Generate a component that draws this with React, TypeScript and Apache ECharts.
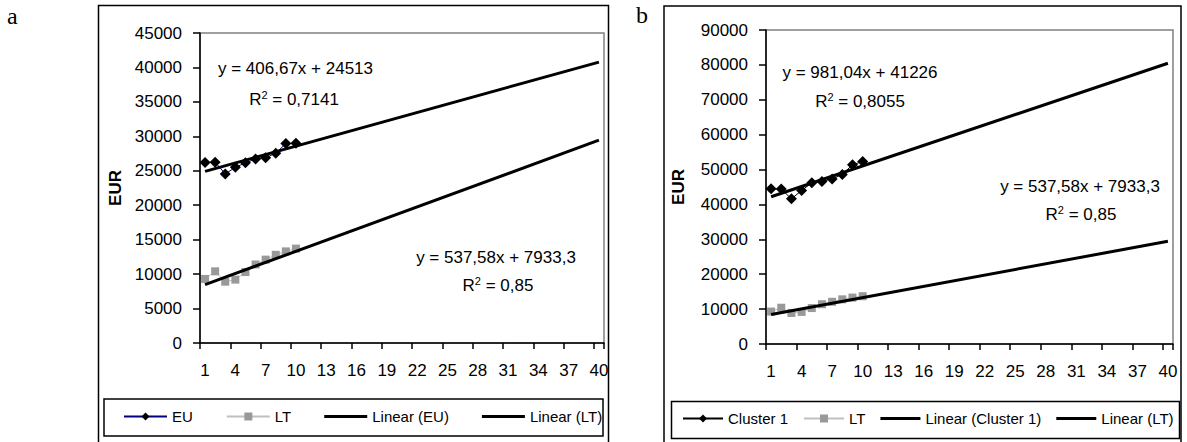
import React, { useEffect, useRef } from "react";
import * as echarts from "echarts";

// ---------- data ----------
const categories = [
  "1", "2", "3", "4", "5", "6", "7", "8", "9", "10",
  "11", "12", "13", "14", "15", "16", "17", "18", "19", "20",
  "21", "22", "23", "24", "25", "26", "27", "28", "29", "30",
  "31", "32", "33", "34", "35", "36", "37", "38", "39", "40",
];
const euValues = [26200, 26250, 24550, 25500, 26150, 26700, 26900, 27550, 28950, 29000];
const ltValues = [9300, 10400, 8900, 9200, 10300, 11400, 12100, 12800, 13300, 13700];
const cluster1Values = [44500, 44400, 41600, 44000, 46200, 46600, 47300, 48600, 51400, 52300];
// trend line end points (at category 1 and category 40)
const trendEU = [24920, 40780];
const trendLT = [8470, 29440];
const trendCluster1 = [42210, 80470];

const legendA = ["EU", "LT", "Linear (EU)", "Linear (LT)"];
const legendB = ["Cluster 1", "LT", "Linear (Cluster 1)", "Linear (LT)"];

const eqEU = ["y = 406,67x + 24513", "0,7141"];
const eqLT = ["y = 537,58x + 7933,3", "0,85"];
const eqCluster1 = ["y = 981,04x + 41226", "0,8055"];

// ---------- helpers ----------
const FONT = "'Liberation Sans', Arial, sans-serif";
const LINE_ICON = "path://M0,0 L40,0 L40,3 L0,3 Z";

function trendData(ends: number[]) {
  const arr: (number | null)[] = categories.map(() => null);
  arr[0] = ends[0];
  arr[categories.length - 1] = ends[1];
  return arr;
}

function xAxis(gridIndex: number) {
  return {
    type: "category",
    gridIndex,
    data: categories,
    boundaryGap: true,
    axisLine: { show: true, lineStyle: { color: "#000", width: 1.5 } },
    axisTick: { show: true, interval: 2, length: 6, lineStyle: { color: "#000", width: 1.5 } },
    axisLabel: { interval: 2, color: "#000", fontSize: 17, fontFamily: FONT, margin: 19 },
    splitLine: { show: false },
  };
}

function yAxis(gridIndex: number, max: number, interval: number, nameGap: number) {
  return {
    type: "value",
    gridIndex,
    min: 0,
    max,
    interval,
    name: "EUR",
    nameLocation: "middle",
    nameGap,
    nameTextStyle: { fontWeight: "bold", fontSize: 17, color: "#000", fontFamily: FONT },
    axisLine: { show: true, lineStyle: { color: "#000", width: 1.5 } },
    axisTick: { show: true, length: 7, lineStyle: { color: "#000", width: 1.5 } },
    axisLabel: { color: "#000", fontSize: 17, fontFamily: FONT, margin: 18, formatter: (v: number) => String(v) },
    splitLine: { show: false },
  };
}

function dataSeries(name: string, data: number[], idx: number, kind: "diamond" | "rect", lineColor: string, symColor: string) {
  return {
    name,
    type: "line",
    xAxisIndex: idx,
    yAxisIndex: idx,
    data,
    symbol: kind,
    symbolSize: kind === "diamond" ? 11 : 8,
    showSymbol: true,
    showAllSymbol: true,
    itemStyle: { color: symColor },
    lineStyle: { color: lineColor, width: 1 },
    z: 2,
  };
}

function trendSeries(name: string, ends: number[], idx: number) {
  return {
    name,
    type: "line",
    xAxisIndex: idx,
    yAxisIndex: idx,
    data: trendData(ends),
    connectNulls: true,
    symbol: "none",
    itemStyle: { color: "#000" },
    lineStyle: { color: "#000", width: 3 },
    z: 3,
  };
}

function eqText(x: number, y: number, eq: string[]) {
  return {
    type: "text",
    x,
    y,
    style: { text: eq[0], fontSize: 17, fontFamily: FONT, fill: "#000", align: "center", verticalAlign: "middle" },
  };
}

function r2Text(x: number, y: number, eq: string[]) {
  return {
    type: "text",
    x,
    y,
    style: {
      text: "{n|R}{s|2}{n| = " + eq[1] + "}",
      align: "center",
      verticalAlign: "middle",
      rich: {
        n: { fontSize: 17, fontFamily: FONT, fill: "#000", lineHeight: 20 },
        s: { fontSize: 11, fontFamily: FONT, fill: "#000", verticalAlign: "top", lineHeight: 20 },
      },
    },
  };
}

function legendItems(names: string[]) {
  return names.map((n) => (n.startsWith("Linear") ? { name: n, icon: LINE_ICON } : { name: n }));
}

export default function App() {
  const ref = useRef<HTMLDivElement>(null);
  useEffect(() => {
    if (!ref.current) return;
    const chart = echarts.init(ref.current, null, { renderer: "svg" });
    const legendText = { fontSize: 15, fontFamily: FONT, color: "#000" };
    chart.setOption({
      animation: false,
      backgroundColor: "#fff",
      grid: [
        { left: 200, top: 33, width: 404, height: 310, show: true, borderColor: "#808080", borderWidth: 1.5, backgroundColor: "transparent" },
        { left: 766, top: 30, width: 407, height: 314, show: true, borderColor: "#808080", borderWidth: 1.5, backgroundColor: "transparent" },
      ],
      xAxis: [xAxis(0), xAxis(1)],
      yAxis: [yAxis(0, 45000, 5000, 76), yAxis(1, 90000, 10000, 79)],
      legend: [
        {
          data: legendItems(legendA),
          left: 123,
          top: 409,
          padding: 0,
          itemWidth: 43,
          itemHeight: 10,
          itemGap: 33,
          selectedMode: false,
          symbolKeepAspect: true,
          textStyle: legendText,
        },
        {
          data: legendItems(legendB),
          left: 682,
          top: 411,
          padding: 0,
          itemWidth: 40,
          itemHeight: 10,
          itemGap: 15,
          selectedMode: false,
          symbolKeepAspect: true,
          textStyle: legendText,
        },
      ],
      series: [
        dataSeries("EU", euValues, 0, "diamond", "#000080", "#000"),
        dataSeries("LT", ltValues, 0, "rect", "#c0c0c0", "#999999"),
        trendSeries("Linear (EU)", trendEU, 0),
        trendSeries("Linear (LT)", trendLT, 0),
        dataSeries("Cluster 1", cluster1Values, 1, "diamond", "#000", "#000"),
        dataSeries("LT", ltValues, 1, "rect", "#c0c0c0", "#999999"),
        trendSeries("Linear (Cluster 1)", trendCluster1, 1),
        trendSeries("Linear (LT)", trendLT, 1),
      ],
      graphic: [
        { type: "rect", shape: { x: 98.5, y: 5.5, width: 510, height: 445 }, style: { fill: "none", stroke: "#000", lineWidth: 1.5 }, z: 10 },
        { type: "rect", shape: { x: 664, y: 6, width: 517, height: 445 }, style: { fill: "none", stroke: "#000", lineWidth: 1.5 }, z: 10 },
        { type: "rect", shape: { x: 104, y: 399, width: 499, height: 37 }, style: { fill: "none", stroke: "#000", lineWidth: 1.5 }, z: 10 },
        { type: "rect", shape: { x: 671.5, y: 401.5, width: 508, height: 37 }, style: { fill: "none", stroke: "#000", lineWidth: 1.5 }, z: 10 },
        { type: "text", x: 7, y: 16, style: { text: "a", fontSize: 24, fontFamily: "'Liberation Serif', 'Times New Roman', serif", fill: "#000", align: "left", verticalAlign: "middle" } },
        { type: "text", x: 636, y: 15, style: { text: "b", fontSize: 24, fontFamily: "'Liberation Serif', 'Times New Roman', serif", fill: "#000", align: "left", verticalAlign: "middle" } },
        eqText(295.5, 68, eqEU),
        r2Text(294, 99, eqEU),
        eqText(496, 257, eqLT),
        r2Text(498, 285, eqLT),
        eqText(860, 72, eqCluster1),
        r2Text(860, 101, eqCluster1),
        eqText(1080, 186, eqLT),
        r2Text(1081, 214, eqLT),
      ],
    });
    return () => chart.dispose();
  }, []);
  return <div ref={ref} style={{ position: "fixed", left: 0, top: 0, width: 1187, height: 442 }} />;
}
